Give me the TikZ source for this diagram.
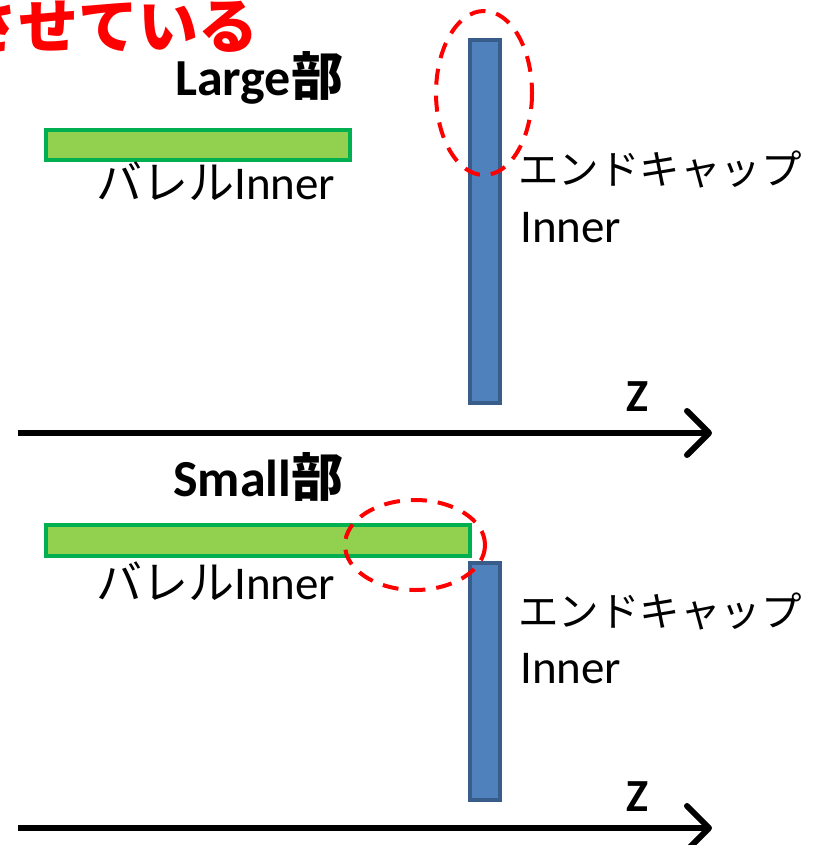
\documentclass[tikz,border=0pt]{standalone}
\usepackage{fontspec}
\setmainfont{Carlito}
\newfontfamily\jp{Noto Sans CJK JP}
\usetikzlibrary{arrows.meta}
\definecolor{barfill}{HTML}{92D050}
\definecolor{barline}{HTML}{00B050}
\definecolor{capfill}{HTML}{4F81BD}
\definecolor{capline}{HTML}{385D8A}
\definecolor{hlred}{HTML}{FF0000}
\newcommand{\jpA}{\fontsize{46}{48}\selectfont\jp}
\newcommand{\jpB}{\fontsize{40.5}{44}\selectfont\jp}
\tikzset{
  barrel/.style={draw=barline, fill=barfill, line width=4pt},
  endcap/.style={draw=capline, fill=capfill, line width=3.5pt},
  hl/.style={draw=hlred, line width=4pt, dash pattern=on 16pt off 11pt},
  axis/.style={line width=6pt, -{Straight Barb[length=22pt,width=44pt,line width=6pt,round]}},
  lbl/.style={inner sep=0pt, anchor=base west, font=\fontsize{47}{50}\selectfont},
  ttl/.style={inner sep=0pt, anchor=base west, font=\fontsize{52}{56}\selectfont\bfseries},
}
\begin{document}
\begin{tikzpicture}[x=1pt,y=-1pt]
\useasboundingbox (0,0) rectangle (815,845);
% red heading (cut at left edge)
\node[inner sep=0pt, anchor=base east, text=hlred, font=\fontsize{60}{64}\selectfont\bfseries] (head) at (259,49) {\jp させている};
% ---------- top panel ----------
\node[ttl] (large) at (175,96) {Large{\jp 部}};
\draw[barrel] (46,130) rectangle (350,160);
\node[lbl] (bl1) at (96,199) {{\jpA バレル}Inner};
\draw[endcap] (470,40) rectangle (500,403);
\node[lbl] (ec1) at (518,185) {\jpB エンドキャップ};
\node[lbl] (in1) at (520,242) {Inner};
\draw[hl] (484,93) ellipse (48 and 82);
\node[ttl, font=\fontsize{46}{50}\selectfont\bfseries] (z1) at (626,411) {Z};
\coordinate (a1s) at (18,433);
\coordinate (a1e) at (712,433);
\draw[axis] (a1s) -- (a1e);
% ---------- bottom panel ----------
\node[ttl] (small) at (173,496) {Small{\jp 部}};
\draw[barrel] (46,525) rectangle (470,556);
\node[lbl] (bl2) at (96,599) {{\jpA バレル}Inner};
\draw[endcap] (470,563) rectangle (500,800);
\node[lbl] (ec2) at (518,626) {\jpB エンドキャップ};
\node[lbl] (in2) at (520,683) {Inner};
\draw[hl] (415,545) ellipse (70 and 45);
\node[ttl, font=\fontsize{46}{50}\selectfont\bfseries] (z2) at (626,811) {Z};
\coordinate (a2s) at (18,828);
\coordinate (a2e) at (712,828);
\draw[axis] (a2s) -- (a2e);
\end{tikzpicture}
\end{document}
